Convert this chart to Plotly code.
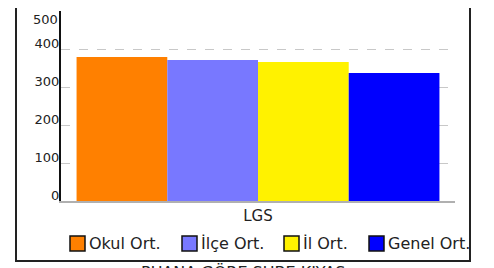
import plotly.graph_objects as go

categories = ["LGS"]
series_names = ["Okul Ort.", "İlçe Ort.", "İl Ort.", "Genel Ort."]
series_values = [[379], [371], [366], [337]]
series_colors = ["#FF8000", "#7878FF", "#FFF200", "#0000FF"]
y_ticks = [0, 100, 200, 300, 400]
y_top_label = 500
title_text = "PUANA GÖRE ŞUBE KIYAS"

# the page body has an 8px margin, so the figure is placed at (8, 8)
OFF = 8
W, H = 494 - OFF, 268 - OFF
L = 61 - OFF
T = 11 - OFF
B = H - (201 - OFF)
R = W - (455 - OFF)
pw = W - L - R
ph = H - T - B

def px_x(x):
    return (x - OFF - L) / pw

def px_y(y):
    return (H - B - (y - OFF)) / ph

FONT = "DejaVu Sans"

fig = go.Figure()
for name, vals, col in zip(series_names, series_values, series_colors):
    fig.add_trace(go.Bar(x=categories, y=vals, name=name, marker=dict(color=col, line=dict(width=0)),
                         showlegend=False))

# legend drawn as swatches + labels below the plot
legend_left_px = [70, 182, 284, 369]
sw = 15
leg_top = 236
shapes = [
    dict(type="rect", xref="paper", yref="paper", x0=px_x(16), x1=px_x(470),
         y0=px_y(261), y1=px_y(-20), line=dict(color="#222", width=2), fillcolor="rgba(0,0,0,0)"),
]
annotations = [
    dict(text=str(y_top_label), xref="paper", yref="y", x=0, y=y_top_label, xanchor="right",
         yanchor="middle", xshift=-1, yshift=-8, showarrow=False, font=dict(size=13)),
    dict(text=title_text, xref="paper", yref="paper", x=px_x(243), y=px_y(261),
         xanchor="center", yanchor="top", showarrow=False, font=dict(size=16, color="#222")),
]
for name, col, lx in zip(series_names, series_colors, legend_left_px):
    shapes.append(dict(type="rect", xref="paper", yref="paper", x0=px_x(lx), x1=px_x(lx + sw),
                       y0=px_y(leg_top + sw), y1=px_y(leg_top), fillcolor=col,
                       line=dict(color="#111", width=1.5)))
    annotations.append(dict(text=name, xref="paper", yref="paper", x=px_x(lx + sw + 2),
                            y=px_y(leg_top + sw / 2), xanchor="left", yanchor="middle",
                            showarrow=False, font=dict(size=16, color="#222")))

fig.update_layout(
    width=W, height=H,
    margin=dict(l=L, r=R, t=T, b=B, autoexpand=False),
    paper_bgcolor="white", plot_bgcolor="white",
    barmode="group", bargap=0.079, bargroupgap=0,
    showlegend=False,
    font=dict(family=FONT, color="#222", size=13),
    xaxis=dict(showline=True, linecolor="#b0b0b0", linewidth=2, ticks="",
               tickfont=dict(size=15), showgrid=False, fixedrange=True),
    yaxis=dict(range=[0, 500], tickvals=y_ticks, showgrid=True, gridcolor="#c8c8c8",
               griddash="dash", gridwidth=1, zeroline=False, showline=True, linecolor="#111",
               linewidth=2, ticks="", ticklabelshift=-6, ticklabelstandoff=-3,
               tickfont=dict(size=13), fixedrange=True),
    annotations=annotations,
    shapes=shapes,
)

fig.write_html("out.html")
